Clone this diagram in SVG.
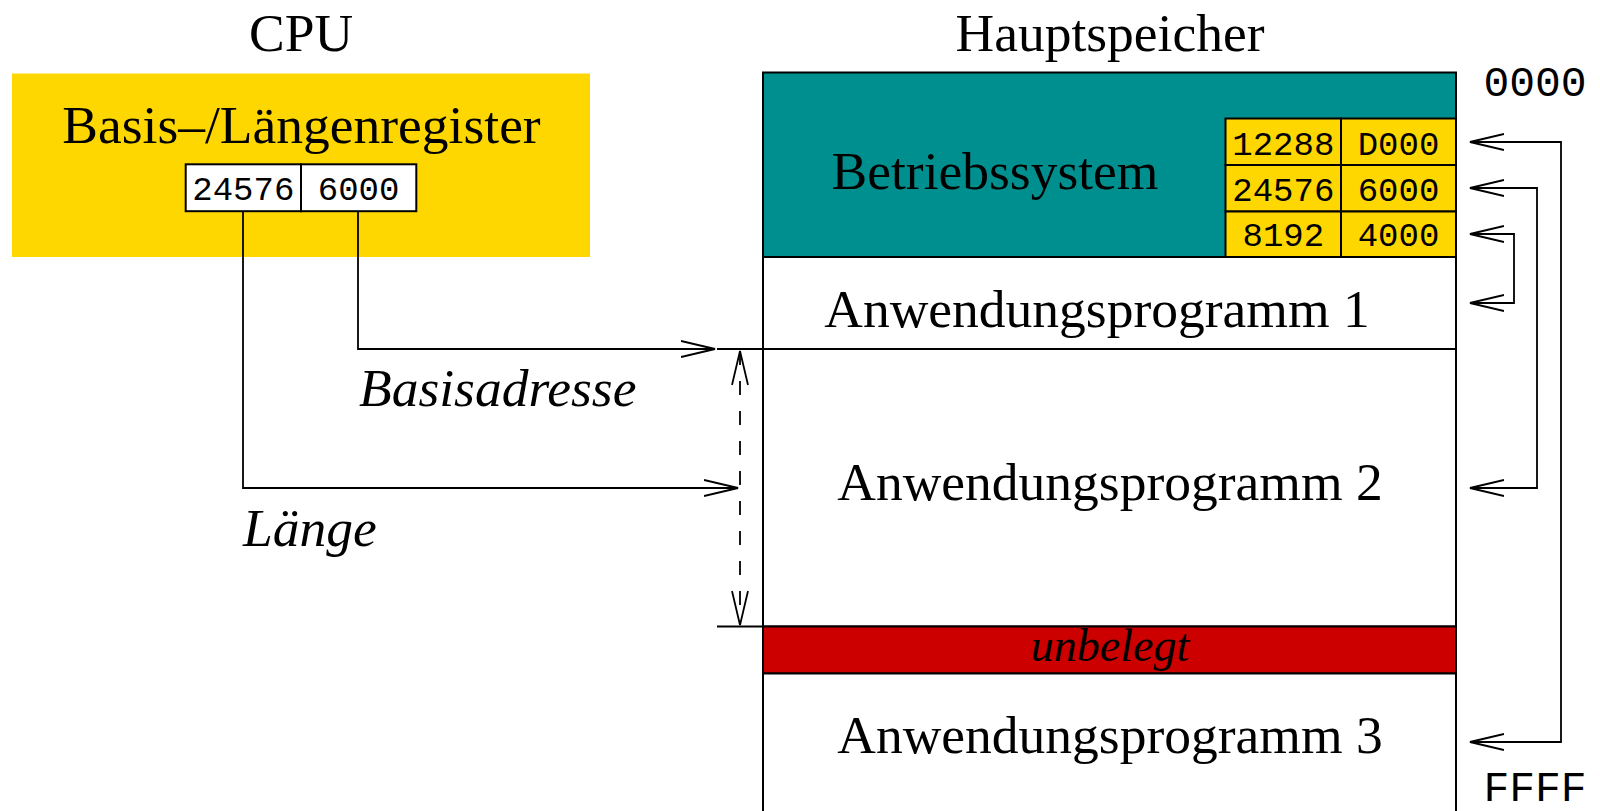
<svg xmlns="http://www.w3.org/2000/svg" width="1600" height="811" viewBox="0 0 1600 811">
<defs>
<style>
.serif{font-family:"Liberation Serif","Times New Roman",serif;font-size:53.5px;fill:#000}
.it{font-style:italic}
.mono{font-family:"Liberation Mono","Courier New",monospace;font-size:34px;fill:#000}
.big{font-size:43px}
.box{stroke:#000;stroke-width:2}
.ln{fill:none;stroke:#000;stroke-width:1.8}
.dash{stroke-dasharray:14 16}
.arr{marker-end:url(#a)}
.arr2{marker-start:url(#a);marker-end:url(#a)}
</style>
<marker id="a" viewBox="0 0 36 20" refX="34" refY="10" markerWidth="36" markerHeight="20" orient="auto-start-reverse" markerUnits="userSpaceOnUse">
<path d="M0 2 L34 10 L0 18" fill="none" stroke="#000" stroke-width="1.8" stroke-dasharray="none"/>
</marker>
</defs>
<rect width="1600" height="811" fill="#fff"/>

<g id="cpu">
<text class="serif" x="301" y="51" text-anchor="middle">CPU</text>
<rect x="12" y="73.5" width="578" height="183.5" fill="#FFD700"/>
<text class="serif" x="301.5" y="143" text-anchor="middle">Basis–/Längenregister</text>
<rect class="box" x="185.7" y="164.3" width="115.3" height="46.9" fill="#fff"/>
<rect class="box" x="301" y="164.3" width="115.3" height="46.9" fill="#fff"/>
<text class="mono" x="243.3" y="200" text-anchor="middle">24576</text>
<text class="mono" x="358.6" y="200" text-anchor="middle">6000</text>
</g>

<g id="hauptspeicher">
<text class="serif" x="1110" y="51" text-anchor="middle">Hauptspeicher</text>
</g>

<g id="betriebssystem">
<rect class="box" x="763" y="72.5" width="693" height="184.5" fill="#008F8F"/>
<text class="serif" x="995" y="189" text-anchor="middle">Betriebssystem</text>
</g>

<g id="tabelle">
<rect class="box" x="1225.5" y="118.5" width="115.5" height="46.5" fill="#FFD700"/>
<rect class="box" x="1341" y="118.5" width="115" height="46.5" fill="#FFD700"/>
<rect class="box" x="1225.5" y="165" width="115.5" height="46.5" fill="#FFD700"/>
<rect class="box" x="1341" y="165" width="115" height="46.5" fill="#FFD700"/>
<rect class="box" x="1225.5" y="211.5" width="115.5" height="45.5" fill="#FFD700"/>
<rect class="box" x="1341" y="211.5" width="115" height="45.5" fill="#FFD700"/>
<text class="mono" x="1283.3" y="155" text-anchor="middle">12288</text>
<text class="mono" x="1398.5" y="155" text-anchor="middle">D000</text>
<text class="mono" x="1283.3" y="201" text-anchor="middle">24576</text>
<text class="mono" x="1398.5" y="201" text-anchor="middle">6000</text>
<text class="mono" x="1283.3" y="246" text-anchor="middle">8192</text>
<text class="mono" x="1398.5" y="246" text-anchor="middle">4000</text>
</g>

<g id="app1">
<rect class="box" x="763" y="257" width="693" height="92" fill="#fff"/>
<text class="serif" x="1097" y="326.5" text-anchor="middle">Anwendungsprogramm 1</text>
</g>

<g id="app2">
<rect class="box" x="763" y="349" width="693" height="277.5" fill="#fff"/>
<text class="serif" x="1110" y="500" text-anchor="middle">Anwendungsprogramm 2</text>
</g>

<g id="unbelegt">
<rect class="box" x="763" y="626.5" width="693" height="47" fill="#CD0000"/>
<text class="serif it" x="1110" y="661" text-anchor="middle" style="font-size:46px">unbelegt</text>
</g>

<g id="app3">
<rect class="box" x="763" y="673.5" width="693" height="160" fill="#fff"/>
<text class="serif" x="1110" y="753" text-anchor="middle">Anwendungsprogramm 3</text>
</g>

<g id="adressen">
<text class="mono big" x="1535" y="96" text-anchor="middle">0000</text>
<text class="mono big" x="1535" y="801" text-anchor="middle">FFFF</text>
</g>

<g id="labels">
<text class="serif it" x="359" y="406">Basisadresse</text>
<text class="serif it" x="243" y="546">Länge</text>
</g>

<g id="connectors">
<path class="ln arr" d="M358 211 V349 H715"/>
<path class="ln arr" d="M243 211 V488 H738"/>
<path class="ln" d="M717 349 H763"/>
<path class="ln" d="M717 626.5 H763"/>
<path class="ln dash arr2" d="M740 351 V625"/>
<path class="ln arr2" d="M1470 142 H1561 V742 H1470"/>
<path class="ln arr2" d="M1470 188 H1537 V488 H1470"/>
<path class="ln arr2" d="M1470 234 H1514 V303 H1470"/>
</g>
</svg>
